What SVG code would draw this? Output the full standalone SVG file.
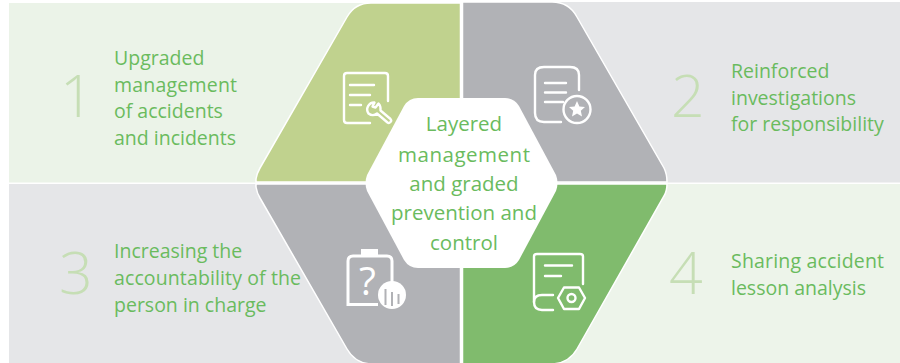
<svg xmlns="http://www.w3.org/2000/svg" width="900" height="363" viewBox="0 0 900 363">
<style>
text{font-family:"Open Sans","Noto Sans","Liberation Sans",sans-serif}
.t{font-size:19.500px;fill:#6abb5e}
.c{font-size:20.500px;fill:#6abb5e;text-anchor:middle}
.n{font-size:59px;fill:#c6deb5;font-weight:300}
.i{fill:none;stroke:#fff;stroke-width:2.400;stroke-linecap:round;stroke-linejoin:round}
.f{fill:#fff}
</style>
<rect width="900" height="363" fill="#fff"/>
<g id="panels">
<rect x="9" y="3" width="452" height="179.500" fill="#ebf3e8"/>
<rect x="9" y="184" width="452" height="179" fill="#e5e6e8"/>
<rect x="462" y="2" width="438" height="180.500" fill="#e5e6e8"/>
<rect x="462" y="184" width="438" height="179" fill="#edf4ea"/>
</g>
<g id="segment-1">
<path d="M256 182V179Q257 173 260 168L347 17Q355 3 371 3H460.500V182Z" fill="#c0d28e" stroke="#fff" stroke-width="1.500"/>
</g>
<g id="segment-2">
<path d="M462.500 2H552Q569 2 577 17L664 168Q667 174 667 182H462.500Z" fill="#b1b2b6" stroke="#fff" stroke-width="1.500"/>
</g>
<g id="segment-3">
<path d="M256 184V187Q257 193 260 198L347 349Q355 363 371 364H460.500V184Z" fill="#b1b2b6" stroke="#fff" stroke-width="1.500"/>
</g>
<g id="segment-4">
<path d="M462.500 184H667Q667 191 664 196L577 349Q569 363 552 364H462.500Z" fill="#80bb6d" stroke="#fff" stroke-width="1.500"/>
</g>
<g id="center">
<path d="M418 98H505Q514 98 519 106L556 175Q559 183 556 191L519 260Q514 268 505 268H418Q409 268 404 260L367 191Q364 183 367 175L404 106Q409 98 418 98Z" fill="#fff"/>
<text class="c" x="464" y="131">Layered</text>
<text class="c" x="464" y="162" textLength="132">management</text>
<text class="c" x="464" y="191">and graded</text>
<text class="c" x="464" y="220">prevention and</text>
<text class="c" x="464" y="250">control</text>
</g>
<g id="icon-1">
<path class="i" d="M370 123H347Q344 123 344 120V76Q344 73 347 73H385Q388 73 388 76V101"/>
<path class="i" d="M350 85H374M350 95H370M350 105H361"/>
<path class="i" d="M374.500 102.500A7 7 0 0 0 368.500 113.500A7 7 0 0 0 377 113.500L387.500 122.500Q389 123.500 390.500 122Q392 120.500 390.500 119L380.500 110.500Q381 106 378.500 103.500L375.500 107.500L372.500 106.500Z"/>
</g>
<g id="icon-2">
<path class="i" d="M561 122H544Q535 122 535 113V75Q535 67 544 67H570Q579 67 579 75V90"/>
<path class="i" d="M545 83H566M545 92.500H566M545 102H563"/>
<circle class="i" cx="577" cy="109.500" r="13.500"/>
<path class="f" d="M577 101L579.400 106.500L585 107L580.800 110.800L582 116.500L577 113.500L572 116.500L573.200 110.800L569 107L574.600 106.500Z"/>
</g>
<g id="icon-3">
<path d="M378 304.500H348V261Q348 256 353 256H387Q392 256 392 261V285" fill="none" stroke="#fff" stroke-width="3"/>
<path class="f" d="M361 249H378V255H361Z"/>
<text x="359" y="295" font-size="39" class="f">?</text>
<circle class="f" cx="392" cy="295" r="14"/>
<path d="M385.500 289V305M392 292V306M398.500 294V304" stroke="#b1b2b6" stroke-width="2" fill="none"/>
</g>
<g id="icon-4">
<path class="i" d="M553 310H542Q534 310 534 302V256.500Q534 254 537 254H580Q583 254 583 256.500V284"/>
<path class="i" d="M545 265.500H572M545 276H561M553 295H542Q534 295 534 302"/>
<path class="i" d="M564 287.500H579L585 298L579 309H564L558 298Z"/>
<circle class="i" cx="571.500" cy="298" r="4"/>
</g>
<g id="label-1">
<text class="n" x="60" y="117">1</text>
<text class="t" x="114" y="65">Upgraded</text>
<text class="t" x="114" y="92" textLength="123">management</text>
<text class="t" x="114" y="118">of accidents</text>
<text class="t" x="114" y="145">and incidents</text>
</g>
<g id="label-2">
<text class="n" x="671" y="117">2</text>
<text class="t" x="731" y="78">Reinforced</text>
<text class="t" x="731" y="105">investigations</text>
<text class="t" x="731" y="131">for responsibility</text>
</g>
<g id="label-3">
<text class="n" x="59" y="294">3</text>
<text class="t" x="114" y="258">Increasing the</text>
<text class="t" x="114" y="285" textLength="187">accountability of the</text>
<text class="t" x="114" y="312">person in charge</text>
</g>
<g id="label-4">
<text class="n" x="669" y="294">4</text>
<text class="t" x="731" y="268" textLength="153">Sharing accident</text>
<text class="t" x="731" y="295">lesson analysis</text>
</g>
</svg>
